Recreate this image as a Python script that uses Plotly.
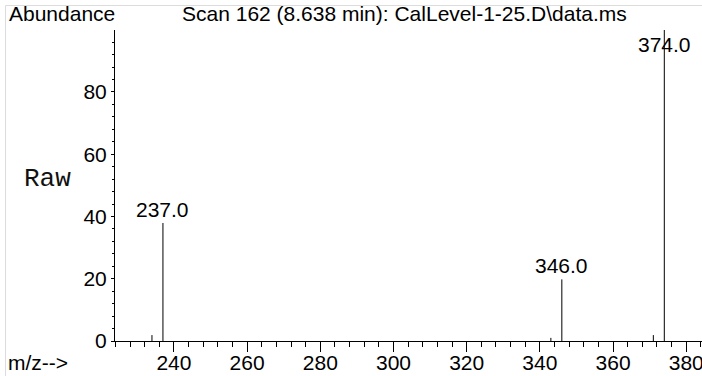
import plotly.graph_objects as go

# ---- data ----
mz_values = [234.0, 237.0, 343.0, 346.0, 371.0, 374.0]
abundance = [1.9, 37.9, 1.0, 19.8, 1.9, 100.0]
labeled_mz = [237.0, 346.0, 374.0]
labeled_text = ["237.0", "346.0", "374.0"]
title_text = "Scan 162 (8.638 min): CalLevel-1-25.D\\data.ms"

W, H = 702, 376
ML, MR, MT, MB = 115, 0, 30, 35
PW, PH = W - ML - MR, H - MT - MB
YMAX = 99.9
FS = 21

def px_x(p):
    return (p - ML) / PW

def px_y(p):
    return (H - MB - p) / PH

xs, ys = [], []
for m, a in zip(mz_values, abundance):
    xs += [m, m, None]
    ys += [0, a, None]

fig = go.Figure()
fig.add_trace(go.Scatter(x=xs, y=ys, mode="lines",
                         line=dict(color="black", width=1),
                         hoverinfo="skip", showlegend=False))

FONT = "Liberation Sans, Arial, sans-serif"
ann = []
lookup = dict(zip(mz_values, abundance))
for m, t in zip(labeled_mz, labeled_text):
    h = lookup[m]
    if h > 90:
        ann.append(dict(x=m, y=99, xref="x", yref="y", text=t, showarrow=False,
                        yanchor="top", yshift=2, xanchor="center",
                        font=dict(family=FONT, size=FS, color="black")))
    else:
        ann.append(dict(x=m, y=h, xref="x", yref="y", text=t, showarrow=False,
                        yanchor="bottom", yshift=0, xanchor="center",
                        font=dict(family=FONT, size=FS, color="black")))

ann.append(dict(x=px_x(7), y=px_y(13), xref="paper", yref="paper", text="Abundance",
                showarrow=False, xanchor="left", yanchor="middle",
                font=dict(family=FONT, size=FS, color="black")))
ann.append(dict(x=px_x(404), y=px_y(13), xref="paper", yref="paper", text=title_text,
                showarrow=False, xanchor="center", yanchor="middle",
                font=dict(family=FONT, size=FS, color="black")))
ann.append(dict(x=px_x(47), y=px_y(179), xref="paper", yref="paper", text="Raw",
                showarrow=False, xanchor="center", yanchor="middle",
                font=dict(family="Liberation Mono, Courier New, monospace", size=26, color="#111111")))
ann.append(dict(x=px_x(6), y=px_y(362), xref="paper", yref="paper", text="m/z-->",
                showarrow=False, xanchor="left", yanchor="middle",
                font=dict(family=FONT, size=FS, color="black")))

shapes = [
    dict(type="line", xref="paper", yref="paper", x0=px_x(5.5), x1=px_x(5.5),
         y0=px_y(5.5), y1=px_y(376), line=dict(color="#dcdcdc", width=1)),
    dict(type="line", xref="paper", yref="paper", x0=px_x(5.5), x1=px_x(702),
         y0=px_y(5.5), y1=px_y(5.5), line=dict(color="#dcdcdc", width=1)),
]

fig.update_layout(
    width=W, height=H, margin=dict(l=ML, r=MR, t=MT, b=MB, pad=0),
    paper_bgcolor="white", plot_bgcolor="white",
    font=dict(family=FONT, size=FS, color="black"),
    annotations=ann, shapes=shapes, showlegend=False,
    xaxis=dict(range=[223.9, 384.3], showgrid=False, zeroline=False,
               showline=True, linecolor="black", linewidth=1,
               ticks="outside", ticklen=10, tickcolor="black", tickwidth=1,
               tick0=0, dtick=20, ticklabeloverflow="allow", automargin=False,
               ticklabelstandoff=-7,
               tickfont=dict(family=FONT, size=FS, color="black"),
               minor=dict(ticks="outside", ticklen=5, tickcolor="black", dtick=4, tick0=0,
                          showgrid=False)),
    yaxis=dict(range=[0, YMAX], showgrid=False, zeroline=False,
               showline=True, linecolor="black", linewidth=1,
               ticks="outside", ticklen=3, tickcolor="black", tickwidth=1,
               tick0=0, dtick=20, ticklabeloverflow="allow", automargin=False,
               tickfont=dict(family=FONT, size=FS, color="black"),
               minor=dict(ticks="outside", ticklen=2, tickcolor="black", dtick=4, tick0=0,
                          showgrid=False)),
)

fig.write_html("out.html", config={"displayModeBar": False, "staticPlot": True},
               post_script="document.body.style.margin='0';document.body.style.padding='0';document.body.style.overflow='hidden';")
